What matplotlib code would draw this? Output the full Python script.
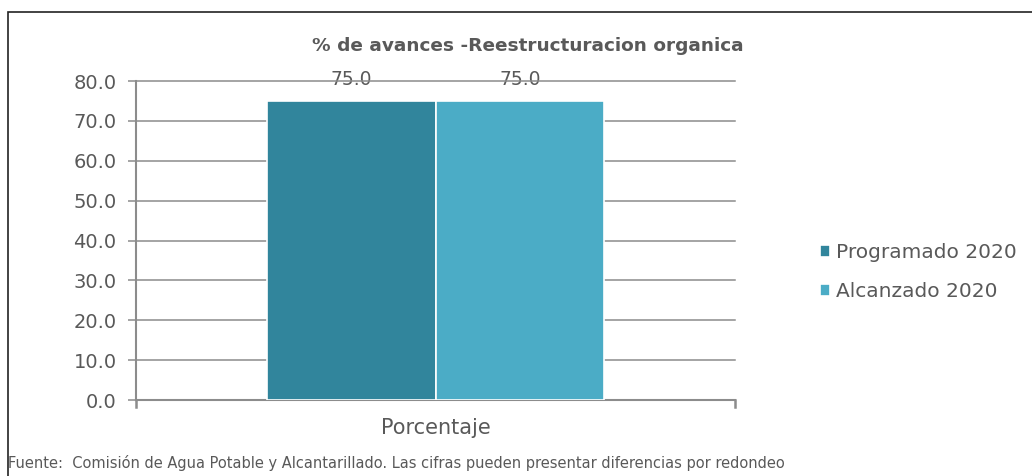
import numpy as np
import matplotlib.pyplot as plt
from matplotlib.patches import Rectangle

plt.rcParams['font.family'] = ['DejaVu Sans']

CATEGORIAS = ['Porcentaje']
SERIES = ['Programado 2020', 'Alcanzado 2020']
PROGRAMADO = [75.0]
ALCANZADO = [75.0]
COLORES = ['#31859C', '#4BACC6']
Y_TICKS = [0, 10, 20, 30, 40, 50, 60, 70, 80]

GRIS = '#595959'
LINEA = '#8C8C8C'

fig = plt.figure(figsize=(10.32, 4.76), dpi=100)
ax = fig.add_axes([136/1032, 1-400/476, 599/1032, 319/476])

# marco exterior (cortado a la derecha y abajo)
fig.patches.append(Rectangle((8/1032, -0.1), 1.2, 1-12/476+0.1, transform=fig.transFigure,
                             fill=False, edgecolor='#222222', linewidth=1.2))

x = np.arange(len(CATEGORIAS))
w = 0.282
valores = [PROGRAMADO, ALCANZADO]
for i, (nombre, vals) in enumerate(zip(SERIES, valores)):
    pos = x - w/2 + i*w
    bars = ax.bar(pos, vals, width=w, color=COLORES[i], edgecolor='white', linewidth=1.2,
                  label=nombre, zorder=3)
    for b, v in zip(bars, vals):
        ax.text(b.get_x() + b.get_width()/2, v + 5.4, f'{v:.1f}', ha='center', va='center',
                fontsize=13.5, color=GRIS, zorder=1)

ax.set_xlim(-0.5, 0.5)
ax.set_ylim(0, 80)
ax.set_yticks(Y_TICKS)
ax.set_yticklabels([f'{v:.1f}' for v in Y_TICKS])
ax.set_xticks([])
ax.yaxis.grid(True, color=LINEA, linewidth=1.1, zorder=2)
ax.set_axisbelow(False)
for gl in ax.get_ygridlines():
    gl.set_clip_on(False)

for s in ['top', 'right']:
    ax.spines[s].set_visible(False)
ax.spines['left'].set_color(LINEA)
ax.spines['bottom'].set_color(LINEA)
ax.spines['left'].set_linewidth(1.5)
ax.spines['bottom'].set_linewidth(1.5)
ax.tick_params(axis='y', length=6, width=1.1, color=LINEA, labelcolor=GRIS,
               labelsize=14, pad=8, direction='out')

# marcas del eje x en los extremos
for xe in ax.get_xlim():
    ax.plot([xe, xe], [0, -1.7], color=LINEA, linewidth=1.8, clip_on=False)

ax.text(0, -7, CATEGORIAS[0], ha='center', va='center', fontsize=15, color=GRIS)

fig.text(528/1032, 1-46/476, '% de avances -Reestructuracion organica', ha='center',
         va='center', fontsize=13.3, fontweight='bold', color=GRIS)

ax.legend(loc='center left', bbox_to_anchor=(802/1032, 1-272/476), bbox_transform=fig.transFigure,
          frameon=False, fontsize=14.5, labelcolor=GRIS, handlelength=0.5, handleheight=0.5,
          handletextpad=0.3, labelspacing=1.0)

fig.text(8/1032, 1-463/476, 'Fuente:  Comisión de Agua Potable y Alcantarillado. Las cifras pueden presentar diferencias por redondeo',
         ha='left', va='center', fontsize=10.5, color=GRIS)

fig.savefig('out.png', dpi=100)
